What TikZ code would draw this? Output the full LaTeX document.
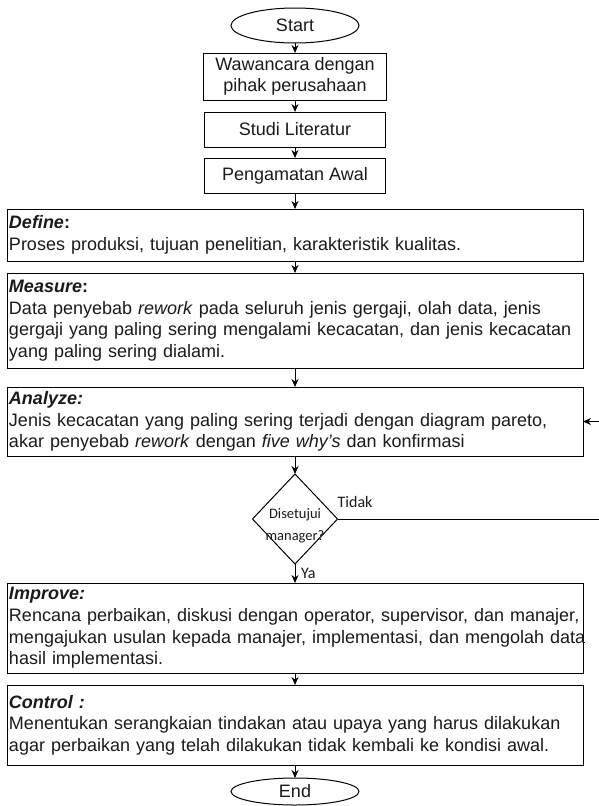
\documentclass[tikz,border=0pt]{standalone}
\usepackage{fontspec}
\setmainfont{Liberation Sans}
\newfontfamily\calibriFont{Carlito}
\usetikzlibrary{arrows.meta, positioning, shapes.geometric}
\definecolor{lineDark}{HTML}{000000}
\definecolor{textDark}{HTML}{1A1A1A}
\tikzset{
  arrowK/.style={-{Stealth[length=8pt, width=7pt]}, lineDark, line width=1pt},
  loopK/.style={-{Stealth[length=8pt, width=7pt]}, lineDark, line width=0.8pt},
  termBox/.style={ellipse, draw=lineDark, line width=1pt, text=textDark, outer sep=0pt,
                  minimum width=128pt, minimum height=35pt, inner sep=0pt},
  stepBox/.style={rectangle, draw=lineDark, line width=1pt, text=textDark, outer sep=0pt,
                  align=center, inner sep=2pt},
  wideBox/.style={rectangle, draw=lineDark, line width=1pt, text=textDark, outer sep=0pt,
                  align=left, text width=572pt, inner xsep=2pt, inner ysep=0pt},
  decBox/.style={diamond, draw=lineDark, line width=1pt, outer sep=0pt,
                 minimum width=85pt, minimum height=90pt, inner sep=0pt},
  decFont/.style={font=\calibriFont\fontsize{14.5}{22}\selectfont, text=textDark},
  branchFont/.style={font=\calibriFont\fontsize{16}{18}\selectfont, text=textDark, inner sep=1pt},
}
\begin{document}
\begin{tikzpicture}[x=1pt, y=-1pt, font=\fontsize{18}{21.6}\selectfont]
    \useasboundingbox (0,0) rectangle (598,806);
    \node[termBox] (start) at (295,25.5) {Start};
    \node[stepBox, minimum width=183pt, minimum height=47pt, below=10pt of start] (wawancara) {Wawancara dengan\\pihak perusahaan};
    \node[stepBox, minimum width=181pt, minimum height=35pt, below=12pt of wawancara] (studi) {Studi Literatur};
    \node[stepBox, minimum width=181pt, minimum height=35pt, below=11pt of studi] (amatan) {Pengamatan Awal};
    \node[wideBox, minimum height=52pt, below=16pt of amatan] (define)
          {\textbf{\textit{Define}}\textbf{:}\\Proses produksi, tujuan penelitian, karakteristik kualitas.};
    \node[wideBox, minimum height=95pt, below=12pt of define] (measure)
          {\textbf{\textit{Measure}}\textbf{:}\\Data penyebab \textit{rework} pada seluruh jenis gergaji, olah data, jenis\\gergaji yang paling sering mengalami kecacatan, dan jenis kecacatan\\yang paling sering dialami.};
    \node[wideBox, minimum height=69pt, below=19pt of measure] (analyze)
          {\textbf{\textit{Analyze:}}\\Jenis kecacatan yang paling sering terjadi dengan diagram pareto,\\akar penyebab \textit{rework} dengan \textit{five why's} dan konfirmasi};
    \node[decBox, below=18pt of analyze] (approve) {};
    \node[decFont, align=center, yshift=-7pt] (approveText) at (approve.center) {Disetujui\\manager?};
    \node[wideBox, minimum height=90pt, below=19pt of approve] (improve)
          {\textbf{\textit{Improve:}}\\Rencana perbaikan, diskusi dengan operator, supervisor, dan manajer,\\\mbox{mengajukan usulan kepada manajer, implementasi, dan mengolah data}\\hasil implementasi.};
    \node[wideBox, minimum height=80pt, below=12pt of improve] (control)
          {\textbf{\textit{Control :}}\\Menentukan serangkaian tindakan atau upaya yang harus dilakukan\\agar perbaikan yang telah dilakukan tidak kembali ke kondisi awal.};
    \node[termBox, minimum height=27pt, below=13pt of control] (end) {End};
    \node[branchFont, anchor=south west, xshift=-1pt, yshift=10pt] (tidak) at (approve.east) {Tidak};
    \node[branchFont, anchor=west, xshift=5pt, yshift=-9pt] (ya) at (approve.south) {Ya};
    \draw[arrowK] (start) -- (wawancara); \draw[arrowK] (wawancara) -- (studi);
    \draw[arrowK] (studi) -- (amatan); \draw[arrowK] (amatan) -- (define);
    \draw[arrowK] (define) -- (measure); \draw[arrowK] (measure) -- (analyze);
    \draw[arrowK] (analyze) -- (approve); \draw[arrowK] (approve) -- (improve);
    \draw[arrowK] (improve) -- (control); \draw[arrowK] (control) -- (end);
    \draw[loopK] (approve.east) -- ++(280,0) |- (analyze.east);
  \end{tikzpicture}
\end{document}
